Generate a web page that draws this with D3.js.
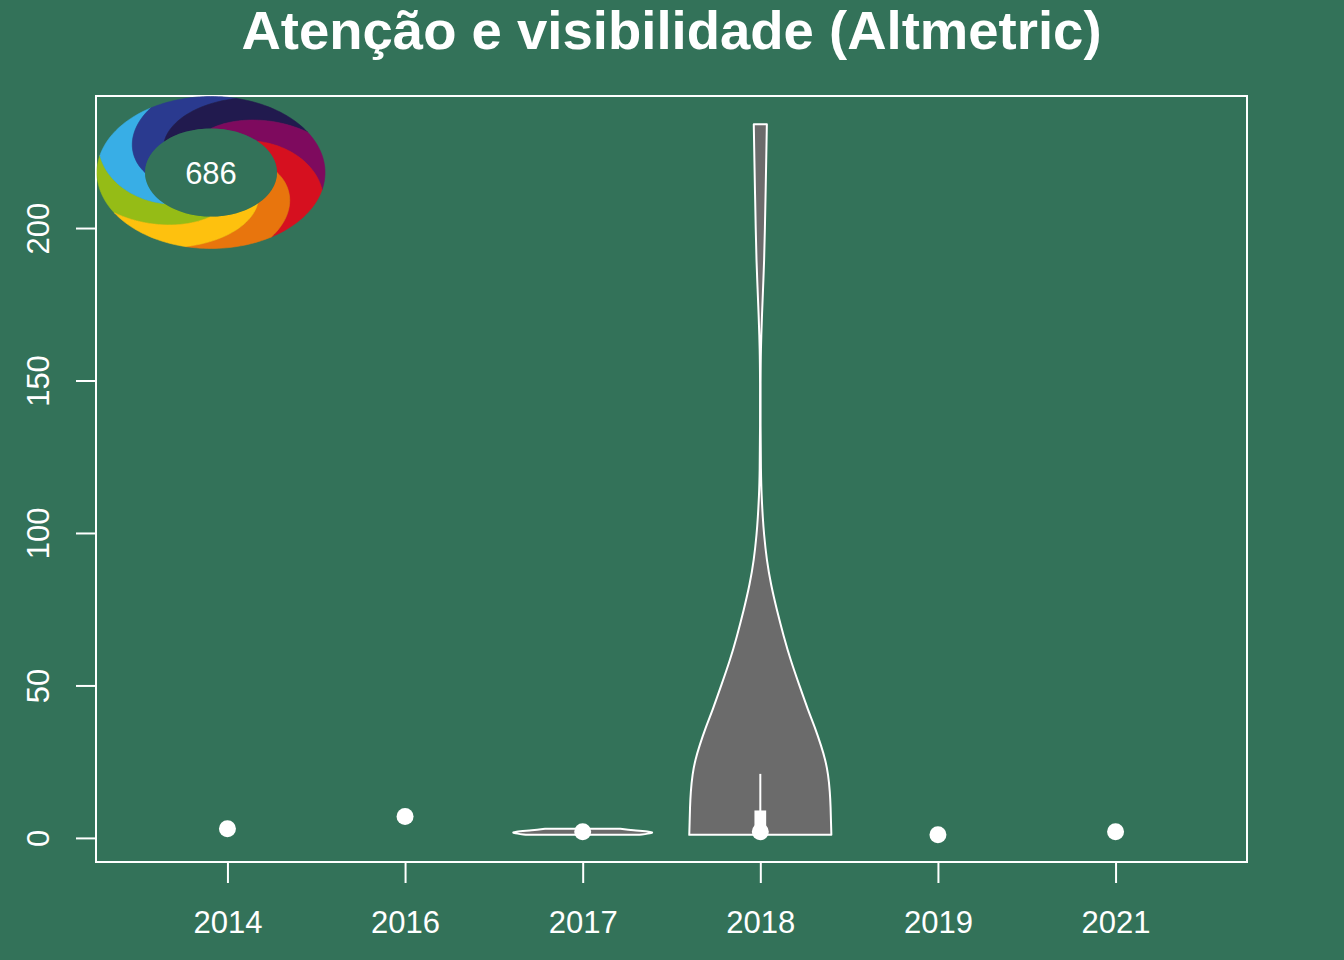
<!DOCTYPE html>
<html>
<head>
<meta charset="utf-8">
<script src="https://cdn.jsdelivr.net/npm/d3@7"></script>
<style>
  html, body { margin: 0; padding: 0; background: #337259; }
  svg { display: block; }
  text { font-family: "Liberation Sans", Arial, Helvetica, sans-serif; fill: #ffffff; }
</style>
</head>
<body>
<svg id="chart" width="1344" height="960"></svg>
<script>
// ---------------- data ----------------
const years = ["2014", "2016", "2017", "2018", "2019", "2021"];
const medians = [3, 7, 2, 2, 1, 2];
const yTicks = [0, 50, 100, 150, 200];

// violin density profiles (value, relative half-width)
const violin2017 = [[1, 0.80], [1.6, 1.0], [2, 0.97], [2.5, 0.7], [3, 0.53]];
const violin2018 = [
  [1, 1.0], [5, 0.995], [10, 0.99], [15, 0.98], [21, 0.955], [25.6, 0.915], [30, 0.86],
  [36.5, 0.765], [42, 0.67], [50, 0.55], [58, 0.43], [66, 0.33], [75, 0.23],
  [83, 0.15], [91, 0.09], [100, 0.05], [105, 0.035], [112, 0.018], [120, 0.008],
  [135, 0.003], [150, 0.003], [160, 0.007], [172, 0.024], [181, 0.04], [189, 0.054],
  [200, 0.065], [211, 0.074], [222, 0.083], [234, 0.092]
];
const violinYears = ["2017", "2018"];
const violinProfiles = [violin2017, violin2018];
const boxQ1 = [1.5, 1];
const boxQ3 = [2.5, 9];
const whiskerLo = [1, 1];
const whiskerHi = [3, 21];

const altmetricScore = "686";
const logoColors = ["#95BC16", "#38AEE6", "#2A3A8F", "#211A4E", "#7E0A5E", "#D6101F", "#E8750D", "#FEC10E"];
const logoStartAngles = [90, 135, 180, 225, 270, 315, 360, 405];

// ---------------- drawing ----------------
const bg = "#337259";
const svg = d3.select("#chart");
svg.append("rect").attr("width", 1344).attr("height", 960).attr("fill", bg);

const pL = 96, pR = 1247, pT = 96, pB = 862;
const x = d3.scaleLinear().domain([-0.74, 5.74]).range([pL, pR]);
const y = d3.scaleLinear().domain([-7.9, 243.3]).range([pB, pT]);
const unit = x(1) - x(0);

// title
svg.append("text")
  .attr("x", (pL + pR) / 2).attr("y", 49)
  .attr("text-anchor", "middle")
  .attr("font-size", 54.5).attr("font-weight", "bold")
  .text("Atenção e visibilidade (Altmetric)");

// violins
const maxHalf = 0.4;
violinYears.forEach((yr, k) => {
  const i = years.indexOf(yr);
  const cx = x(i);
  const area = d3.area()
    .curve(d3.curveBasis)
    .y(d => y(d[0]))
    .x0(d => cx - d[1] * maxHalf * unit)
    .x1(d => cx + d[1] * maxHalf * unit);
  svg.append("path")
    .attr("d", area(violinProfiles[k]))
    .attr("fill", "#6b6b6b")
    .attr("stroke", "#ffffff")
    .attr("stroke-width", 2)
    .attr("stroke-linejoin", "round");
  // whisker
  svg.append("line")
    .attr("x1", cx).attr("x2", cx)
    .attr("y1", y(whiskerLo[k])).attr("y2", y(whiskerHi[k]))
    .attr("stroke", "#ffffff").attr("stroke-width", 2);
  // box
  const bh = 0.033 * unit;
  svg.append("rect")
    .attr("x", cx - bh).attr("width", 2 * bh)
    .attr("y", y(boxQ3[k])).attr("height", y(boxQ1[k]) - y(boxQ3[k]))
    .attr("fill", "#ffffff");
});

// median points
svg.selectAll("circle.med").data(medians).enter().append("circle")
  .attr("class", "med")
  .attr("cx", (d, i) => x(i)).attr("cy", d => y(d))
  .attr("r", 8.5).attr("fill", "#ffffff");

// frame
svg.append("rect")
  .attr("x", pL).attr("y", pT)
  .attr("width", pR - pL).attr("height", pB - pT)
  .attr("fill", "none").attr("stroke", "#ffffff").attr("stroke-width", 2);

// x axis
const xAxis = d3.axisBottom(x).tickValues(d3.range(years.length))
  .tickFormat(i => years[i]).tickSize(21).tickPadding(28);
const gx = svg.append("g").attr("transform", `translate(0,${pB})`).call(xAxis);
gx.select(".domain").remove();
gx.selectAll(".tick line").attr("stroke", "#ffffff").attr("stroke-width", 2);
gx.selectAll(".tick text").attr("fill", "#ffffff").attr("font-size", 31)
  .attr("font-family", "Liberation Sans, Arial, sans-serif");

// y axis
const yAxis = d3.axisLeft(y).tickValues(yTicks).tickSize(20).tickPadding(0);
const gy = svg.append("g").attr("transform", `translate(${pL},0)`).call(yAxis);
gy.select(".domain").remove();
gy.selectAll(".tick line").attr("stroke", "#ffffff").attr("stroke-width", 2);
gy.selectAll(".tick text")
  .attr("fill", "#ffffff").attr("font-size", 31)
  .attr("font-family", "Liberation Sans, Arial, sans-serif")
  .attr("x", null).attr("dy", null)
  .attr("text-anchor", "middle")
  .attr("transform", "translate(-47,0) rotate(-90)");

// Altmetric donut logo
const lg = { cx: 211, cy: 172.5, rxIn: 66, ryIn: 44, rxOut: 114, ryOut: 76, twist: 58 };
const rad = a => a * Math.PI / 180;
function pt(angle, t) {
  const rx = lg.rxIn + (lg.rxOut - lg.rxIn) * t;
  const ry = lg.ryIn + (lg.ryOut - lg.ryIn) * t;
  const a = rad(angle + lg.twist * t);
  return [lg.cx + rx * Math.cos(a), lg.cy + ry * Math.sin(a)];
}
const logo = svg.append("g");
logoStartAngles.forEach((a0, k) => {
  const a1 = a0 + 45;
  const pts = [];
  const N = 24;
  for (let j = 0; j <= N; j++) pts.push(pt(a0 + (a1 - a0) * j / N, 0));
  for (let j = 0; j <= N; j++) pts.push(pt(a1, j / N));
  for (let j = N; j >= 0; j--) pts.push(pt(a0 + (a1 - a0) * j / N, 1));
  for (let j = N; j >= 0; j--) pts.push(pt(a0, j / N));
  logo.append("path")
    .attr("d", d3.line()(pts) + "Z")
    .attr("fill", logoColors[k])
    .attr("stroke", logoColors[k]).attr("stroke-width", 0.6);
});
logo.append("ellipse")
  .attr("cx", lg.cx).attr("cy", lg.cy).attr("rx", lg.rxIn).attr("ry", lg.ryIn)
  .attr("fill", bg);
logo.append("text")
  .attr("x", lg.cx).attr("y", 184)
  .attr("text-anchor", "middle").attr("font-size", 31)
  .text(altmetricScore);
</script>
</body>
</html>
